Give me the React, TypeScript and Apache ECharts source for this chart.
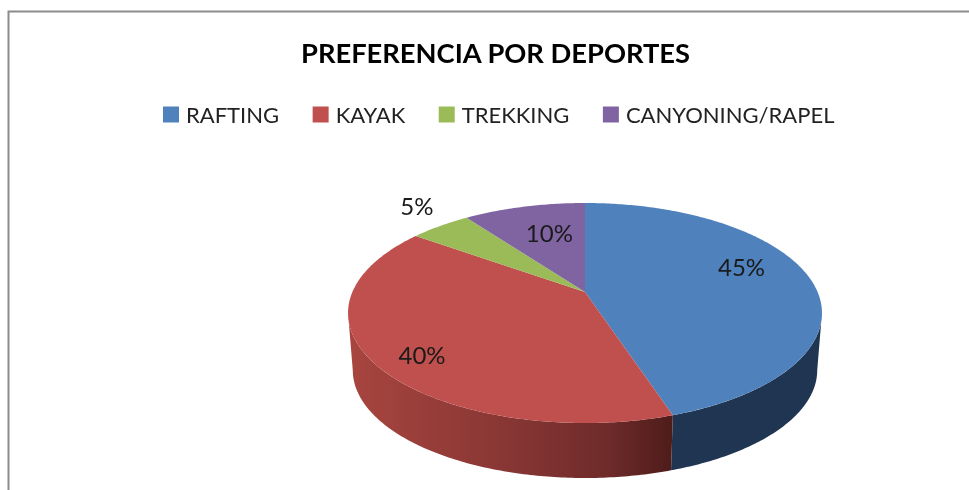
import React, { useEffect, useRef } from "react";
import * as echarts from "echarts";

const titleText = "PREFERENCIA POR DEPORTES";
const categories = ["RAFTING", "KAYAK", "TREKKING", "CANYONING/RAPEL"];
const shares = [45, 40, 5, 10];
const topColors = ["#4F81BD", "#C0504D", "#9BBB59", "#8064A2"];
const total = shares.reduce((a, b) => a + b, 0);

// Perspective disc: apex, radii, vanishing factor, thickness.
const CX = 585, CY = 292, RX = 232.6, RY = 106, K = 0.191, DROP = 57.6, BOTTOM_SCALE = 0.98;
const FRONT_FROM = Math.acos(-K);
const FRONT_TO = 2 * Math.PI - FRONT_FROM;
const labelNudge = [[-1, -14.5], [-20, 15], [-63, -39], [9, 3]];

function project(theta: number, f = 1, bottom = false): number[] {
  const s = Math.sin(theta) * f, c = Math.cos(theta) * f;
  const w = 1 + K * c;
  const x = (RX * s) / w, y = (-RY * c) / w;
  return bottom ? [CX + x * BOTTOM_SCALE, CY + DROP + y * BOTTOM_SCALE] : [CX + x, CY + y];
}

function arc(a: number, b: number, bottom = false): number[][] {
  const n = Math.max(2, Math.ceil(Math.abs(b - a) * 80));
  const out: number[][] = [];
  for (let i = 0; i <= n; i++) out.push(project(a + ((b - a) * i) / n, 1, bottom));
  return out;
}

function sideFill(i: number): any {
  if (i === 0) return "#1F3552";
  return {
    type: "linear", x: 0, y: 0, x2: 1, y2: 0,
    colorStops: [
      { offset: 0, color: "#A8453F" },
      { offset: 0.5, color: "#873634" },
      { offset: 0.8, color: "#6E2B2A" },
      { offset: 1, color: "#4E1C1A" },
    ],
  };
}

function sliceSeries(i: number): any {
  const before = shares.slice(0, i).reduce((a, b) => a + b, 0);
  const start = (before / total) * 2 * Math.PI;
  const end = ((before + shares[i]) / total) * 2 * Math.PI;
  return {
    type: "custom",
    name: categories[i],
    coordinateSystem: "none",
    itemStyle: { color: topColors[i] },
    data: [{ name: categories[i], value: shares[i] }],
    renderItem: () => {
      const children: any[] = [];
      const a = Math.max(start, FRONT_FROM), b = Math.min(end, FRONT_TO);
      if (b > a) {
        children.push({
          type: "polygon",
          shape: { points: [...arc(a, b), ...arc(b, a, true)] },
          style: { fill: sideFill(i) },
        });
      }
      children.push({
        type: "polygon",
        shape: { points: [[CX, CY], ...arc(start, end)] },
        style: { fill: topColors[i] },
      });
      const mid = project((start + end) / 2, 0.7);
      children.push({
        type: "text",
        x: mid[0] + labelNudge[i][0],
        y: mid[1] + labelNudge[i][1],
        style: {
          text: `${shares[i]}%`,
          font: "24px Lato",
          fill: "#1a1a1a",
          align: "center",
          verticalAlign: "middle",
        },
      });
      return { type: "group", children };
    },
  };
}

export default function App() {
  const ref = useRef<HTMLDivElement>(null);
  useEffect(() => {
    document.body.style.margin = "0";
    document.body.style.background = "#fff";
    const chart = echarts.init(ref.current!, undefined, { renderer: "svg" });
    chart.setOption({
      animation: false,
      backgroundColor: "#fff",
      title: {
        text: titleText,
        left: 296,
        top: 34,
        textStyle: { fontFamily: "Lato", fontWeight: "bold", fontSize: 27.3, color: "#000" },
      },
      legend: {
        data: categories,
        left: 158,
        top: 98.5,
        icon: "rect",
        itemWidth: 16,
        itemHeight: 16,
        itemGap: 33.5,
        textStyle: { fontFamily: "Lato", fontSize: 22, color: "#222", padding: [0, 0, 0, 2] },
      },
      graphic: [
        {
          type: "polyline",
          shape: { points: [[8.5, 490], [8.5, 11.5], [969, 11.5]] },
          style: { stroke: "#8c8c8c", lineWidth: 2, fill: "none" },
        },
      ],
      series: categories.map((_, i) => sliceSeries(i)),
    });
    return () => chart.dispose();
  }, []);
  return (
    <div
      ref={ref}
      style={{ position: "fixed", left: 0, top: 0, width: 969, height: 490, filter: "blur(0.4px)" }}
    />
  );
}
